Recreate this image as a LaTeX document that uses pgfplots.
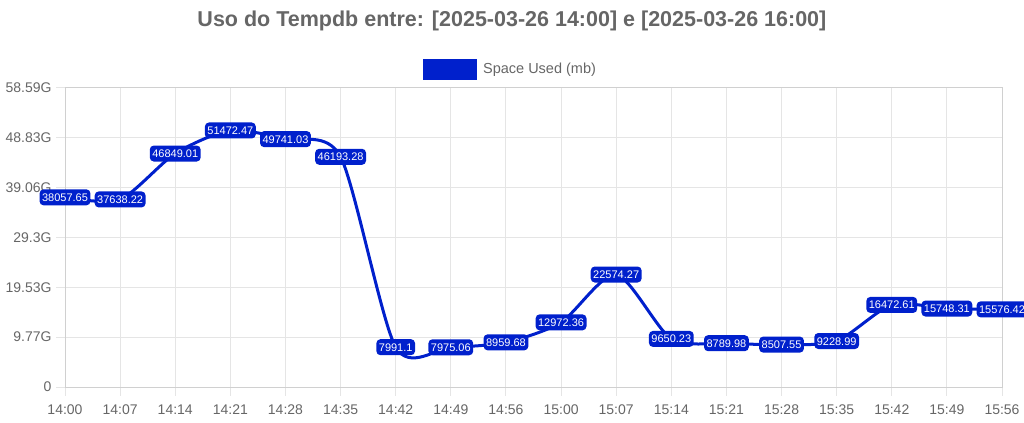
\documentclass[border=0pt]{standalone}
\usepackage{pgfplots}
\pgfplotsset{compat=1.18}
\usepackage{fontspec}
\setmainfont{Liberation Sans}
\definecolor{cblue}{HTML}{0020CC}
\definecolor{txtgray}{HTML}{666666}
\definecolor{gridgray}{HTML}{E5E5E5}
\definecolor{axgray}{HTML}{D0D0D0}

\begin{document}
\begin{tikzpicture}[x=1bp,y=1bp]
\path[use as bounding box] (0,0) rectangle (1024,422);
\begin{axis}[
  at={(65bp,35bp)}, anchor=south west,
  width=937bp, height=299bp, scale only axis,
  clip=false,
  xmin=0, xmax=17, ymin=0, ymax=60000,
  scaled y ticks=false,
  xtick={0,...,17},
  xticklabels={14:00,14:07,14:14,14:21,14:28,14:35,14:42,14:49,14:56,15:00,15:07,15:14,15:21,15:28,15:35,15:42,15:49,15:56},
  ytick={0,10000,20000,30000,40000,50000,60000},
  yticklabels={\mbox{0},\mbox{9.77G},\mbox{19.53G},\mbox{29.3G},\mbox{39.06G},\mbox{48.83G},\mbox{58.59G}},
  xtick pos=bottom, ytick pos=left,
  tick align=outside, major tick length=9bp,
  tick style={gridgray, line width=1bp},
  grid=major,
  major grid style={gridgray, line width=1bp},
  axis line style={axgray, line width=1bp},
  ticklabel style={font=\fontsize{14bp}{16bp}\selectfont, text=txtgray},
  yticklabel style={xshift=-1bp},
  xticklabel style={yshift=-5bp},
  title={Uso do Tempdb entre: [2025-03-26 14:00] e [2025-03-26 16:00]},
  title style={at={(0.477,1.1873)}, anchor=base, inner sep=0pt,
    font=\bfseries\fontsize{21.5bp}{24bp}\selectfont, text=txtgray},
  legend style={at={(0.4755,1.0635)}, anchor=center, draw=none, fill=none,
    font=\fontsize{14.5bp}{16bp}\selectfont, text=txtgray, inner sep=0pt,
    /tikz/every odd column/.append style={column sep=4bp}},
  legend image code/.code={\fill[cblue] (0bp,-9bp) rectangle (51bp,9bp);},
  point meta=explicit symbolic,
  nodes near coords,
  nodes near coords align=center,
  every node near coord/.append style={anchor=center, fill=cblue, rounded corners=4bp,
    text=white, font=\fontsize{11bp}{13bp}\selectfont,
    inner xsep=2.5bp, inner ysep=4bp, text height=8bp, text depth=0bp},
]
\addplot[cblue, line width=3bp, smooth, tension=0.45, mark=none]
  table[x=x, y=y, meta=lbl] {
x  y         lbl
0  38057.65  38057.65
1  37638.22  37638.22
2  46849.01  46849.01
3  51472.47  51472.47
4  49741.03  49741.03
5  46193.28  46193.28
6  7991.1    7991.1
7  7975.06   7975.06
8  8959.68   8959.68
9  12972.36  12972.36
10 22574.27  22574.27
11 9650.23   9650.23
12 8789.98   8789.98
13 8507.55   8507.55
14 9228.99   9228.99
15 16472.61  16472.61
16 15748.31  15748.31
17 15576.42  15576.42
};
\addlegendentry{Space Used (mb)}
\end{axis}
\end{tikzpicture}
\end{document}
